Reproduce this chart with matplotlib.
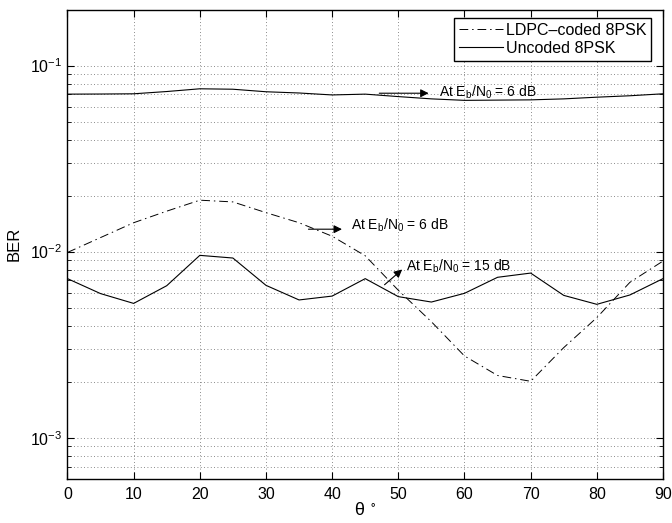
import numpy as np
import matplotlib
matplotlib.use('Agg')
import matplotlib.pyplot as plt
from matplotlib.ticker import LogLocator, NullFormatter

plt.rcParams['font.family'] = ['Liberation Sans', 'DejaVu Sans']
plt.rcParams['mathtext.default'] = 'regular'
plt.rcParams['axes.unicode_minus'] = True

# angle theta in degrees
theta = [0, 5, 10, 15, 20, 25, 30, 35, 40, 45, 50, 55, 60, 65, 70, 75, 80, 85, 90]

# LDPC-coded 8PSK at Eb/N0 = 6 dB
ber_ldpc = [0.0099, 0.0119, 0.0143, 0.0165, 0.0189, 0.0185, 0.0162, 0.0143, 0.0121,
            0.0095, 0.0062, 0.0042, 0.00275, 0.00216, 0.00201, 0.00305, 0.00442,
            0.00684, 0.0089]

# Uncoded 8PSK at Eb/N0 = 6 dB
ber_unc6 = [0.0702, 0.0703, 0.0705, 0.0725, 0.0750, 0.0746, 0.0723, 0.0712, 0.0695,
            0.0702, 0.0681, 0.0662, 0.0650, 0.0652, 0.0654, 0.0662, 0.0676, 0.0688,
            0.0705]

# Uncoded 8PSK at Eb/N0 = 15 dB
ber_unc15 = [0.00716, 0.00595, 0.00527, 0.00656, 0.00955, 0.00924, 0.00659, 0.00550,
             0.00577, 0.00716, 0.00573, 0.00536, 0.00597, 0.00728, 0.00767, 0.00582,
             0.00521, 0.00585, 0.00716]

fig = plt.figure(figsize=(6.72, 5.23), dpi=100)
ax = fig.add_axes([0.1004, 0.0841, 0.8862, 0.8977])

ax.semilogy(theta, ber_ldpc, color='black', linewidth=0.7,
            dashes=(9, 4, 1.5, 4), label='LDPC\u2013coded 8PSK')
ax.semilogy(theta, ber_unc6, color='black', linewidth=0.8, label='Uncoded 8PSK')
ax.semilogy(theta, ber_unc15, color='black', linewidth=0.8)

ax.set_xlim(0, 90)
ax.set_ylim(6e-4, 2e-1)
ax.set_xticks(np.arange(0, 100, 10))
ax.yaxis.set_major_locator(LogLocator(base=10, numticks=10))
ax.yaxis.set_minor_locator(LogLocator(base=10, subs=np.arange(2, 10), numticks=20))
ax.yaxis.set_minor_formatter(NullFormatter())

ax.grid(True, which='major', linestyle=(0, (1, 3)), color='#666666', linewidth=0.6)
ax.grid(True, which='minor', axis='y', linestyle=(0, (1, 3)), color='#666666', linewidth=0.6)
ax.tick_params(which='both', direction='in', top=True, right=True, labelsize=11.5)
ax.tick_params(which='major', length=5)
ax.tick_params(which='minor', length=3)
ax.tick_params(axis='x', pad=6)
for s in ax.spines.values():
    s.set_linewidth(1.0)

ax.set_xlabel(r'$\theta\ ^{\circ}$', fontsize=13, labelpad=0)
ax.set_ylabel('BER', fontsize=12, labelpad=6)

arrow = dict(arrowstyle='-|>', color='black', linewidth=0.8, mutation_scale=12)
ax.annotate('', xy=(55.0, 0.0710), xytext=(46.7, 0.0710), arrowprops=arrow)
ax.text(56.2, 0.0681, r'At E$_b$/N$_0$ = 6 dB', fontsize=10, va='baseline')
ax.annotate('', xy=(41.9, 0.0132), xytext=(36.0, 0.0132), arrowprops=arrow)
ax.text(42.8, 0.0131, r'At E$_b$/N$_0$ = 6 dB', fontsize=10, va='baseline')
ax.annotate('', xy=(50.9, 0.0082), xytext=(47.6, 0.00649), arrowprops=arrow)
ax.text(51.2, 0.00787, r'At E$_b$/N$_0$ = 15 dB', fontsize=10, va='baseline')

leg = ax.legend(loc='upper right', bbox_to_anchor=(0.980, 0.982), fontsize=11.5,
                fancybox=False, framealpha=1, edgecolor='black', handlelength=2.8,
                borderpad=0.3, labelspacing=0.2, handletextpad=0.15,
                borderaxespad=0)
leg.get_frame().set_linewidth(1.0)

fig.savefig('out.png', dpi=100)
